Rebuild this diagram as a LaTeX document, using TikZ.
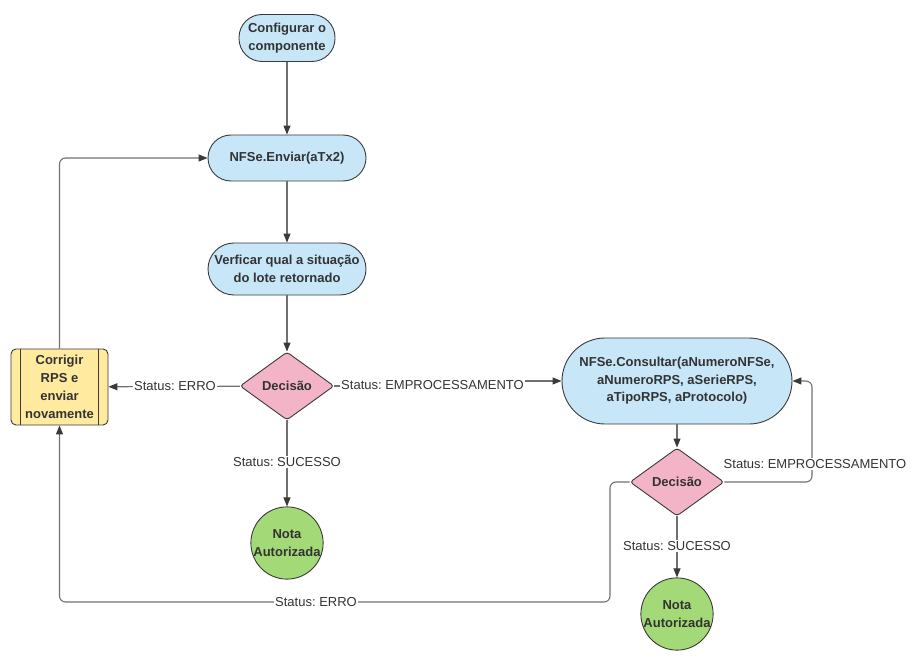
\documentclass[tikz,border=0pt]{standalone}
\usepackage{fontspec}
\setmainfont{Liberation Sans}
\frenchspacing
\usetikzlibrary{shapes.geometric,arrows.meta}
\definecolor{bluef}{HTML}{C7E6F8}
\definecolor{pinkf}{HTML}{F4B4C8}
\definecolor{yellowf}{HTML}{FFEAA0}
\definecolor{greenf}{HTML}{A3D977}
\definecolor{edge}{HTML}{3A3A3A}
\definecolor{txt}{HTML}{333333}
\definecolor{linec}{HTML}{707070}
\tikzset{
  base/.style={draw=edge, line width=0.9pt, text=txt, font=\fontsize{13}{18}\selectfont\bfseries, align=center, inner sep=0pt},
  term/.style={base, fill=bluef, rectangle, rounded corners=#1},
  term/.default=23pt,
  dec/.style={base, fill=pinkf, diamond, minimum width=94pt, minimum height=68pt, rounded corners=3pt},
  endc/.style={base, fill=greenf, circle, minimum size=72pt},
  proc/.style={base, fill=yellowf, rectangle, rounded corners=5pt, minimum width=97pt, minimum height=76pt},
  conn/.style={draw=linec, line width=1.1pt, -{Triangle[length=9pt,width=7pt,color=edge]}, rounded corners=6pt},
  lbl/.style={fill=white, text=txt, font=\fontsize{13}{16}\selectfont, inner sep=1pt}
}
\begin{document}
\begin{tikzpicture}[x=1pt,y=-1pt]
\useasboundingbox (0,0) rectangle (921,671);
\node[term, minimum width=96pt, minimum height=47pt] (cfg) at (287,38) {Configurar o\\componente};
\node[term, minimum width=158pt, minimum height=46pt] (env) at (287,158) {NFSe.Enviar(aTx2)};
\node[term=26pt, minimum width=158pt, minimum height=52pt] (ver) at (287,269) {Verficar qual a situação\\do lote retornado};
\node[dec] (d1) at (287,386) {Decisão};
\node[proc] (cor) at (59.5,387) {Corrigir\\RPS e\\enviar\\novamente};
\draw[edge, line width=0.9pt] ([xshift=10pt]cor.north west) -- ([xshift=10pt]cor.south west);
\draw[edge, line width=0.9pt] ([xshift=-10pt]cor.north east) -- ([xshift=-10pt]cor.south east);
\node[endc] (n1) at (287,543) {Nota\\Autorizada};
\node[term=43pt, minimum width=230pt, minimum height=86pt, font=\fontsize{13}{17.5}\selectfont\bfseries] (con) at (677,381) {NFSe.Consultar(aNumeroNFSe,\\aNumeroRPS, aSerieRPS,\\aTipoRPS, aProtocolo)};
\node[dec] (d2) at (677,482) {Decisão};
\node[endc] (n2) at (677,614) {Nota\\Autorizada};

\coordinate (k1) at (432,386);
\coordinate (k2) at (432,381);
\coordinate (r1) at (812,482);
\coordinate (l1) at (610,482);
\coordinate (l2) at (610,602);
\coordinate (l3) at (59.5,602);

\draw[conn] (cfg) -- (env);
\draw[conn] (env) -- (ver);
\draw[conn] (ver) -- (d1);
\draw[conn] (d1) -- (cor);
\draw[conn, rounded corners=0pt] (d1.east) -- (k1) -- (k2) -- (con.west);
\draw[conn] (d1) -- (n1);
\draw[conn] (cor.north) |- (env.west);
\draw[conn] (con) -- (d2);
\draw[conn] (d2.east) -- (r1) |- (con.east);
\draw[conn] (d2) -- (n2);
\draw[conn] (d2.west) -- (l1) -- (l2) -- (l3) -- (cor.south);

\node[lbl] (t1) at (175,386) {Status: ERRO};
\node[lbl] (t2) at (432.5,385) {Status: EMPROCESSAMENTO};
\node[lbl] (t3) at (287,462) {Status: SUCESSO};
\node[lbl] (t4) at (815,464) {Status: EMPROCESSAMENTO};
\node[lbl] (t5) at (677,546) {Status: SUCESSO};
\node[lbl] (t6) at (316,602) {Status: ERRO};
\end{tikzpicture}
\end{document}
